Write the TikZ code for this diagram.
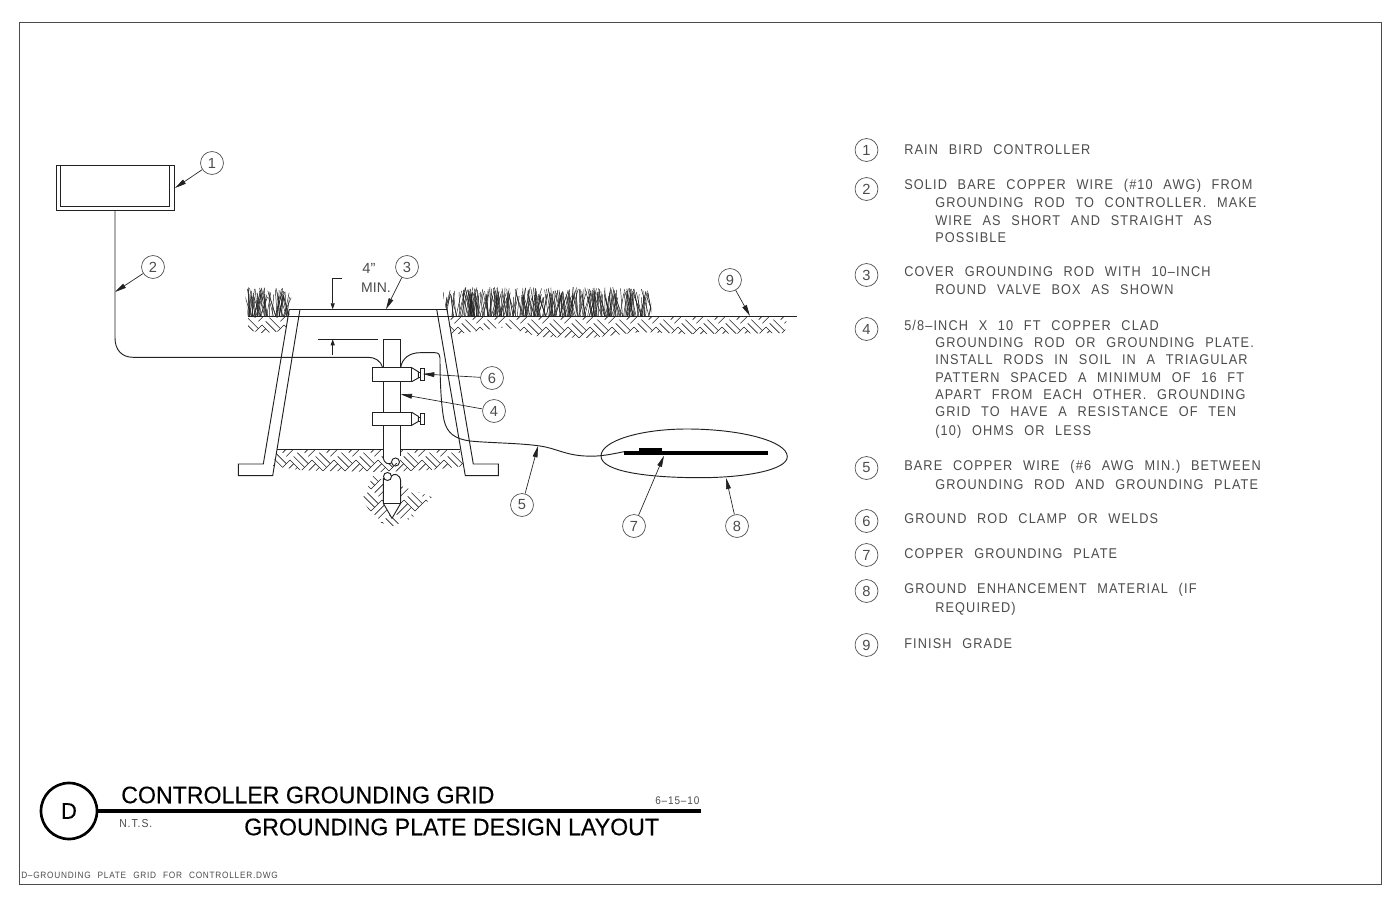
\documentclass[tikz,border=0pt]{standalone}
\usepackage{fontspec}
\setmainfont{Liberation Sans}
\newfontfamily\cadfont[FakeStretch=0.9,LetterSpace=8,WordSpace=2.3]{Liberation Sans}
\newfontfamily\headfont[FakeStretch=0.965,FakeBold=0.25]{Liberation Sans}
\usetikzlibrary{arrows.meta}
\pgfmathsetseed{7}
\definecolor{ink}{gray}{0.13}
\definecolor{soft}{gray}{0.3}
\tikzset{
  line/.style={draw=ink,line width=0.7pt},
  thinl/.style={draw=ink,line width=0.55pt},
  callout/.style={circle,draw=soft,line width=0.5pt,minimum size=17.2pt,inner sep=0pt,font=\fontsize{11}{11}\selectfont,text=soft},
  leader/.style={draw=ink,line width=0.5pt,-{Triangle[length=8.5pt,width=3.6pt]},shorten <=0pt},
  legendtext/.style={anchor=west,inner sep=0pt,text=soft,font=\cadfont\fontsize{10.6}{10}\selectfont},
  titletext/.style={anchor=west,inner sep=0pt,text=black,font=\headfont\fontsize{18}{18}\selectfont},
}
% herringbone earth hatch, clipped to a closed region
\newcommand{\earthfill}[3]{% clip path, origin x, origin y
  \begin{scope}
    \clip #1;
    \foreach \i in {-2,...,18}{
      \foreach \j in {-2,...,18}{
        \pgfmathtruncatemacro{\prty}{mod(\i+\j+100,2)}
        \pgfmathtruncatemacro{\keep}{abs(\i-\j)<6}
        \ifnum\keep=1
        \pgfmathsetmacro{\cx}{#2+(\i+\j)*11}
        \pgfmathsetmacro{\cy}{#3+(\i-\j)*11}
        \ifnum\prty=0
          \foreach \t in {0,0.333,0.667}{
            \draw[draw=ink,line width=0.45pt] ({\cx+\t*11},{\cy-\t*11}) -- ({\cx+\t*11+11},{\cy-\t*11+11});
          }
        \else
          \foreach \t in {0,0.333,0.667}{
            \draw[draw=ink,line width=0.45pt] ({\cx+\t*11},{\cy+\t*11}) -- ({\cx+\t*11+11},{\cy+\t*11-11});
          }
        \fi
        \fi
      }
    }
  \end{scope}
}
% grass blades
\newcommand{\grass}[3]{% x start, x end, count
  \foreach \n in {1,...,#3}{
    \pgfmathsetmacro{\gx}{#1+rnd*(#2-#1)}
    \pgfmathsetmacro{\gt}{\gx+(rnd-0.5)*16}
    \pgfmathsetmacro{\gh}{316-18-rnd*11}
    \draw[draw=ink,line width=0.35pt] (\gx,316) -- (\gt,\gh);
  }
}
\begin{document}
\begin{tikzpicture}[x=0.75pt,y=-0.75pt]
\useasboundingbox (0,0) rectangle (1400,906);
\fill[white] (0,0) rectangle (1400,906);
% frame
\draw[draw=soft,line width=0.6pt] (19,22.5) rectangle (1381,884);

% earth
\earthfill{(248,316) -- (289,316) -- (285,331) -- (262,333) -- (248,330) -- cycle}{240}{325}
\earthfill{(448,316) -- (787,316) -- (785,333) -- (690,334) -- (640,332) -- (590,338) -- (540,337) -- (505,327) -- (451,335) -- cycle}{436}{327}
\earthfill{(277,449) -- (383,449) -- (383,463) -- (400,463) -- (400,449) -- (460,449) -- (464,466) -- (430,470) -- (380,472) -- (330,471) -- (300,470) -- (273,466) -- cycle}{268}{460}
\earthfill{(373,476) -- (432,497) -- (412,518) -- (393,526) -- (378,522) -- (362,500) -- cycle}{360}{500}
% grass
\begin{scope}
  \clip (244,285) -- (297,285) -- (289,316) -- (248,316) -- cycle;
  \grass{246}{292}{65}
\end{scope}
\begin{scope}
  \clip (440,285) -- (651,285) -- (651,316) -- (448,316) -- cycle;
  \grass{442}{655}{300}
\end{scope}

% controller box
\draw[line] (56.7,165) rectangle (174.3,210.7);
\draw[thinl] (60,165) -- (60,206.7) -- (169.3,206.7) -- (169.3,165);

% valve box
\draw[line] (289.3,309.3) -- (447,309.3);
\draw[line] (289,316) -- (450,316);
\draw[line] (289.3,309.3) -- (263.3,464) -- (238.3,464) -- (238.3,475.7) -- (272.7,475.7) -- (300,309.3);
\draw[line] (436.7,309.3) -- (465.3,475.7) -- (498.3,475.7) -- (498.3,464) -- (473.3,464) -- (447,309.3);
% grade
\draw[line] (248,316) -- (289,316);
\draw[line] (448,316) -- (797,316);
\draw[line] (277,449) -- (383,449);
\draw[line] (400.7,449) -- (460,449);

% ground rod with break symbol
\fill[white] (383.3,339.3) rectangle (400.7,458);
\draw[line] (383.3,458) -- (383.3,339.3) -- (400.7,339.3) -- (400.7,456);
\draw[line] (383.3,458) .. controls (384,463) and (388,465) .. (391.5,463);
\draw[line] (395.5,462) circle[radius=4];
% lower part of rod
\fill[white] (383.3,478) -- (391,472) -- (400.7,478) -- (400.7,503.3) -- (392,518.3) -- (383.3,503.3) -- cycle;
\draw[line] (387.5,476.5) circle[radius=4];
\draw[line] (391.5,476) .. controls (394,473) and (400,474) .. (400.7,481);
\draw[line] (383.3,478) -- (383.3,503.3) -- (392,518.3) -- (400.7,503.3) -- (400.7,481);
\draw[line] (383.3,503.3) -- (400.7,503.3);

% clamps
\filldraw[line,fill=white] (372.7,367.7) rectangle (411.7,381.7);
\draw[line] (411.7,367.7) -- (418.3,371.7) -- (418.3,378) -- (411.7,381.7);
\draw[line] (418.3,372.5) rectangle (420,377);
\filldraw[line,fill=white] (420,368.5) rectangle (424,380.5);
\filldraw[line,fill=white] (372.7,412.3) rectangle (411.7,425.3);
\draw[line] (411.7,412.3) -- (418.3,416.3) -- (418.3,421.5) -- (411.7,425.3);
\draw[line] (418.3,417) rectangle (420,421);
\filldraw[line,fill=white] (420,413) rectangle (424,424.5);

% wires
\coordinate (w2a) at (115,210.7);
\coordinate (w2b) at (382.7,367.7);
\draw[line] (w2a) -- (115,338) .. controls (115,350) and (122,357.3) .. (133,357.3) -- (368.3,357.3) .. controls (375,357.3) and (381,361) .. (w2b);
\coordinate (w5a) at (400.7,367.7);
\coordinate (w5b) at (624,451.7);
\draw[line] (w5a) .. controls (402,358) and (410,352.7) .. (420,352.7) -- (435,352.7) .. controls (439,352.7) and (440,355) .. (440,358) .. controls (440,380) and (441,405) .. (444,420) .. controls (447,434) and (456,439) .. (470,441) .. controls (490,443) and (520,443) .. (540,446) .. controls (555,448) and (565,455) .. (585,456) .. controls (600,457) and (612,454) .. (w5b);
% enhancement blob
\draw[line] (601,456) .. controls (601,441) and (640,429) .. (687,429) .. controls (740,429) and (787.3,441) .. (787.3,456.7) .. controls (787.3,470) and (745,477.7) .. (700,477.7) .. controls (650,477.7) and (601,472) .. (601,456) -- cycle;
% plate
\fill[black] (624,451) rectangle (768.3,454.6);
\fill[black] (639,448) rectangle (661.7,451.5);

% dimension
\draw[thinl] (341.7,278.3) -- (332.7,278.3);
\draw[thinl,-{Triangle[length=4.5pt,width=3pt]}] (332.7,278.3) -- (332.7,309.3);
\draw[thinl] (318.3,339.3) -- (378.3,339.3);
\draw[thinl,-{Triangle[length=4.5pt,width=3pt]}] (332.7,355) -- (332.7,339.3);
\node[anchor=center,inner sep=0pt,text=soft,font=\fontsize{11}{11}\selectfont] (dima) at (369,268) {4”};
\node[anchor=center,inner sep=0pt,text=soft,font=\fontsize{10.5}{11}\selectfont] (dimb) at (376,288) {MIN.};

% callouts
\node[callout] (c1) at (212,163) {1};
\node[callout] (c2) at (153,267) {2};
\node[callout] (c3) at (407,267) {3};
\node[callout] (c4) at (494,411) {4};
\node[callout] (c5) at (522,505) {5};
\node[callout] (c6) at (492,378) {6};
\node[callout] (c7) at (634,526) {7};
\node[callout] (c8) at (737,526) {8};
\node[callout] (c9) at (730,280) {9};
\coordinate (t1) at (175,188);
\coordinate (t2) at (115,292);
\coordinate (t3) at (386,309.3);
\coordinate (t4) at (400.7,394.3);
\coordinate (t5) at (538,446);
\coordinate (t6) at (423,374);
\coordinate (t7) at (664,455.7);
\coordinate (t8) at (726,477.7);
\coordinate (t9) at (750,316);
\foreach \k in {1,...,9}{ \draw[leader] (c\k) -- (t\k); }

% legend
\foreach \k/\ly in {1/150,2/189,3/275,4/329,5/468,6/521,7/555,8/591,9/645}{
  \node[callout] (l\k) at (866.5,\ly) {\k};
}
\node[legendtext] (a1) at (904,150) {RAIN BIRD CONTROLLER};
\node[legendtext] (a2) at (904,186) {SOLID BARE COPPER WIRE (\#10 AWG) FROM};
\node[legendtext] (a3) at (935,203) {GROUNDING ROD TO CONTROLLER. MAKE};
\node[legendtext] (a4) at (935,221) {WIRE AS SHORT AND STRAIGHT AS};
\node[legendtext] (a5) at (935,238) {POSSIBLE};
\node[legendtext] (a6) at (904,272) {COVER GROUNDING ROD WITH 10–INCH};
\node[legendtext] (a7) at (935,290) {ROUND VALVE BOX AS SHOWN};
\node[legendtext] (a8) at (904,325) {5/8–INCH X 10 FT COPPER CLAD};
\node[legendtext] (a9) at (935,343) {GROUNDING ROD OR GROUNDING PLATE.};
\node[legendtext] (a10) at (935,360) {INSTALL RODS IN SOIL IN A TRIAGULAR};
\node[legendtext] (a11) at (935,378) {PATTERN SPACED A MINIMUM OF 16 FT};
\node[legendtext] (a12) at (935,395) {APART FROM EACH OTHER. GROUNDING};
\node[legendtext] (a13) at (935,412) {GRID TO HAVE A RESISTANCE OF TEN};
\node[legendtext] (a14) at (935,432) {(10) OHMS OR LESS};
\node[legendtext] (a15) at (904,467) {BARE COPPER WIRE (\#6 AWG MIN.) BETWEEN};
\node[legendtext] (a16) at (935,485) {GROUNDING ROD AND GROUNDING PLATE};
\node[legendtext] (a17) at (904,519) {GROUND ROD CLAMP OR WELDS};
\node[legendtext] (a18) at (904,554) {COPPER GROUNDING PLATE};
\node[legendtext] (a19) at (904,590) {GROUND ENHANCEMENT MATERIAL (IF};
\node[legendtext] (a20) at (935,609) {REQUIRED)};
\node[legendtext] (a21) at (904,644) {FINISH GRADE};

% title block
\node[circle,draw=black,line width=2pt,minimum size=42pt,inner sep=0pt,font=\headfont\fontsize{17}{17}\selectfont] (d) at (69,811) {D};
\coordinate (tl) at (701,811);
\draw[draw=black,line width=2.6pt] (d) -- (tl);
\node[titletext] (t1a) at (121,795) {CONTROLLER GROUNDING GRID};
\node[titletext] (t2a) at (244,827) {GROUNDING PLATE DESIGN LAYOUT};
\node[anchor=west,inner sep=0pt,text=soft,font=\cadfont\fontsize{8.7}{8}\selectfont] (nts) at (119,823) {N.T.S.};
\node[anchor=west,inner sep=0pt,text=soft,font=\cadfont\fontsize{8.3}{8}\selectfont] (date) at (655,801) {6–15–10};
\node[anchor=west,inner sep=0pt,text=soft,font=\cadfont\fontsize{6.9}{8}\selectfont] (file) at (21,875.5) {D–GROUNDING PLATE GRID FOR CONTROLLER.DWG};
\end{tikzpicture}
\end{document}
